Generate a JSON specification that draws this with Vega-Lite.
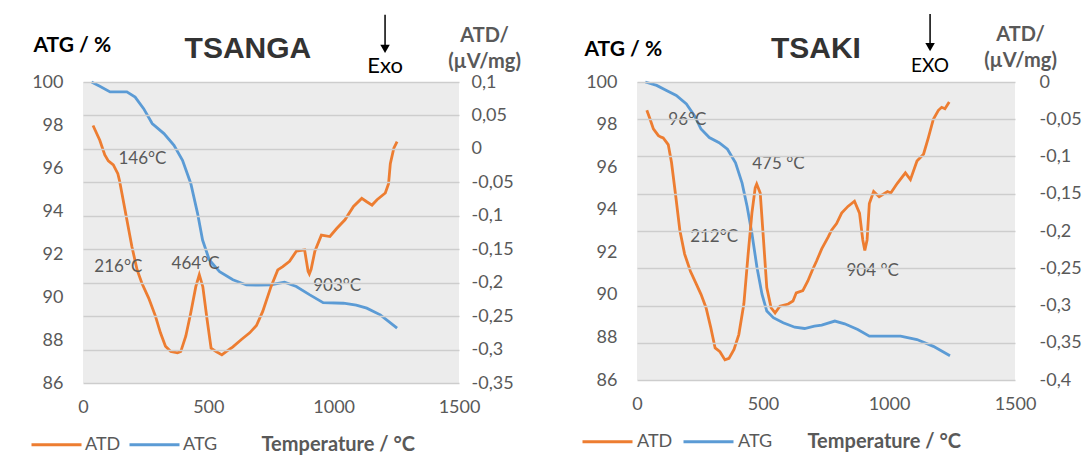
{
  "$schema": "https://vega.github.io/schema/vega-lite/v6.json",
  "background": "white",
  "padding": {"left": 30, "top": 13, "right": 5, "bottom": 5},
  "bounds": "flush",
  "spacing": 178,
  "datasets": {
    "tsanga_atg": [
      {"T": 34, "ATG": 100}, {"T": 67, "ATG": 99.8}, {"T": 108, "ATG": 99.54}, {"T": 175, "ATG": 99.54},
      {"T": 208, "ATG": 99.3}, {"T": 242, "ATG": 98.76}, {"T": 276, "ATG": 98.07}, {"T": 323, "ATG": 97.6},
      {"T": 363, "ATG": 97.06}, {"T": 397, "ATG": 96.36}, {"T": 430, "ATG": 95.28}, {"T": 457, "ATG": 93.89},
      {"T": 477, "ATG": 92.65}, {"T": 504, "ATG": 91.72}, {"T": 545, "ATG": 91.18}, {"T": 598, "ATG": 90.8},
      {"T": 652, "ATG": 90.56}, {"T": 700, "ATG": 90.55}, {"T": 750, "ATG": 90.57}, {"T": 804, "ATG": 90.69},
      {"T": 851, "ATG": 90.49}, {"T": 905, "ATG": 90.1}, {"T": 958, "ATG": 89.74}, {"T": 1039, "ATG": 89.71},
      {"T": 1090, "ATG": 89.62}, {"T": 1132, "ATG": 89.48}, {"T": 1186, "ATG": 89.17}, {"T": 1253, "ATG": 88.55}
    ],
    "tsanga_atd": [
      {"T": 40, "ATD": 0.035}, {"T": 67, "ATD": 0.013}, {"T": 87, "ATD": -0.009}, {"T": 101, "ATD": -0.018},
      {"T": 121, "ATD": -0.024}, {"T": 139, "ATD": -0.037}, {"T": 146, "ATD": -0.048}, {"T": 155, "ATD": -0.066},
      {"T": 175, "ATD": -0.106}, {"T": 195, "ATD": -0.146}, {"T": 216, "ATD": -0.181}, {"T": 235, "ATD": -0.201},
      {"T": 262, "ATD": -0.223}, {"T": 289, "ATD": -0.25}, {"T": 309, "ATD": -0.275}, {"T": 329, "ATD": -0.295},
      {"T": 350, "ATD": -0.303}, {"T": 377, "ATD": -0.305}, {"T": 390, "ATD": -0.303}, {"T": 410, "ATD": -0.28},
      {"T": 430, "ATD": -0.245}, {"T": 450, "ATD": -0.206}, {"T": 464, "ATD": -0.188}, {"T": 478, "ATD": -0.206},
      {"T": 495, "ATD": -0.255}, {"T": 511, "ATD": -0.298}, {"T": 531, "ATD": -0.303}, {"T": 554, "ATD": -0.308},
      {"T": 571, "ATD": -0.303}, {"T": 598, "ATD": -0.296}, {"T": 632, "ATD": -0.285}, {"T": 665, "ATD": -0.275},
      {"T": 692, "ATD": -0.264}, {"T": 717, "ATD": -0.243}, {"T": 750, "ATD": -0.206}, {"T": 777, "ATD": -0.181},
      {"T": 797, "ATD": -0.176}, {"T": 824, "ATD": -0.168}, {"T": 851, "ATD": -0.153}, {"T": 884, "ATD": -0.151},
      {"T": 898, "ATD": -0.183}, {"T": 903, "ATD": -0.187}, {"T": 910, "ATD": -0.18}, {"T": 925, "ATD": -0.153},
      {"T": 951, "ATD": -0.129}, {"T": 985, "ATD": -0.131}, {"T": 1012, "ATD": -0.119}, {"T": 1045, "ATD": -0.106},
      {"T": 1079, "ATD": -0.086}, {"T": 1112, "ATD": -0.074}, {"T": 1132, "ATD": -0.079}, {"T": 1153, "ATD": -0.084},
      {"T": 1173, "ATD": -0.076}, {"T": 1206, "ATD": -0.066}, {"T": 1219, "ATD": -0.052}, {"T": 1226, "ATD": -0.022},
      {"T": 1240, "ATD": 0.001}, {"T": 1253, "ATD": 0.011}
    ],
    "tsanga_labels": [
      {"label": "146°C", "T": 237, "y": 96.44},
      {"label": "216°C", "T": 141, "y": 91.41},
      {"label": "464°C", "T": 449, "y": 91.54},
      {"label": "903°C", "T": 1014, "y": 90.49}
    ],
    "tsaki_atg": [
      {"T": 33, "ATG": 100}, {"T": 78, "ATG": 99.84}, {"T": 117, "ATG": 99.6}, {"T": 156, "ATG": 99.37},
      {"T": 196, "ATG": 98.97}, {"T": 228, "ATG": 98.42}, {"T": 254, "ATG": 97.79}, {"T": 287, "ATG": 97.39},
      {"T": 326, "ATG": 97.15}, {"T": 359, "ATG": 96.84}, {"T": 391, "ATG": 96.2}, {"T": 417, "ATG": 95.25},
      {"T": 437, "ATG": 94.15}, {"T": 456, "ATG": 92.88}, {"T": 476, "ATG": 91.3}, {"T": 496, "ATG": 90.03},
      {"T": 515, "ATG": 89.24}, {"T": 541, "ATG": 88.93}, {"T": 580, "ATG": 88.69}, {"T": 626, "ATG": 88.48},
      {"T": 665, "ATG": 88.42}, {"T": 704, "ATG": 88.53}, {"T": 733, "ATG": 88.58}, {"T": 785, "ATG": 88.77},
      {"T": 824, "ATG": 88.64}, {"T": 876, "ATG": 88.37}, {"T": 922, "ATG": 88.06}, {"T": 981, "ATG": 88.06},
      {"T": 1046, "ATG": 88.06}, {"T": 1111, "ATG": 87.9}, {"T": 1176, "ATG": 87.58}, {"T": 1242, "ATG": 87.14}
    ],
    "tsaki_atd": [
      {"T": 39, "ATD": -0.038}, {"T": 52, "ATD": -0.05}, {"T": 65, "ATD": -0.063}, {"T": 85, "ATD": -0.072},
      {"T": 96, "ATD": -0.074}, {"T": 104, "ATD": -0.075}, {"T": 124, "ATD": -0.084}, {"T": 137, "ATD": -0.108},
      {"T": 154, "ATD": -0.154}, {"T": 170, "ATD": -0.199}, {"T": 189, "ATD": -0.231}, {"T": 212, "ATD": -0.254},
      {"T": 235, "ATD": -0.271}, {"T": 254, "ATD": -0.285}, {"T": 274, "ATD": -0.303}, {"T": 293, "ATD": -0.33},
      {"T": 310, "ATD": -0.357}, {"T": 329, "ATD": -0.362}, {"T": 349, "ATD": -0.373}, {"T": 365, "ATD": -0.371},
      {"T": 385, "ATD": -0.359}, {"T": 404, "ATD": -0.339}, {"T": 424, "ATD": -0.298}, {"T": 441, "ATD": -0.231},
      {"T": 456, "ATD": -0.176}, {"T": 469, "ATD": -0.142}, {"T": 475, "ATD": -0.137}, {"T": 489, "ATD": -0.149},
      {"T": 502, "ATD": -0.212}, {"T": 515, "ATD": -0.276}, {"T": 532, "ATD": -0.303}, {"T": 548, "ATD": -0.31},
      {"T": 567, "ATD": -0.301}, {"T": 600, "ATD": -0.298}, {"T": 619, "ATD": -0.294}, {"T": 632, "ATD": -0.283},
      {"T": 658, "ATD": -0.28}, {"T": 678, "ATD": -0.267}, {"T": 694, "ATD": -0.254}, {"T": 713, "ATD": -0.24},
      {"T": 733, "ATD": -0.224}, {"T": 759, "ATD": -0.208}, {"T": 772, "ATD": -0.199}, {"T": 792, "ATD": -0.19},
      {"T": 812, "ATD": -0.176}, {"T": 837, "ATD": -0.167}, {"T": 863, "ATD": -0.16}, {"T": 883, "ATD": -0.176},
      {"T": 896, "ATD": -0.212}, {"T": 904, "ATD": -0.226}, {"T": 913, "ATD": -0.212}, {"T": 922, "ATD": -0.163},
      {"T": 939, "ATD": -0.147}, {"T": 961, "ATD": -0.154}, {"T": 994, "ATD": -0.147}, {"T": 1007, "ATD": -0.149},
      {"T": 1033, "ATD": -0.136}, {"T": 1065, "ATD": -0.122}, {"T": 1085, "ATD": -0.131}, {"T": 1111, "ATD": -0.106},
      {"T": 1137, "ATD": -0.097}, {"T": 1156, "ATD": -0.075}, {"T": 1176, "ATD": -0.05}, {"T": 1196, "ATD": -0.038},
      {"T": 1209, "ATD": -0.034}, {"T": 1222, "ATD": -0.036}, {"T": 1239, "ATD": -0.027}
    ],
    "tsaki_labels": [
      {"label": "96°C", "T": 200, "y": 98.2},
      {"label": "475 °C", "T": 561, "y": 96.17},
      {"label": "212°C", "T": 306, "y": 92.72},
      {"label": "904 °C", "T": 935, "y": 91.11}
    ]
  },
  "hconcat": [
    {
      "width": 376,
      "height": 301,
      "layer": [
        {
          "data": {"name": "tsanga_atg"},
          "mark": {"type": "line", "strokeWidth": 2.8},
          "encoding": {
            "x": {"field": "T", "type": "quantitative", "scale": {"domain": [0, 1500], "nice": false},
                  "axis": {"values": [0, 500, 1000, 1500], "format": "d", "labelFlush": false, "labelPadding": 15,
                           "title": "Temperature / °C", "titleX": 178, "titleY": 61, "titleAlign": "left", "titleBaseline": "middle"}},
            "y": {"field": "ATG", "type": "quantitative", "scale": {"domain": [86, 100], "nice": false, "zero": false},
                  "axis": {"orient": "left", "values": [86, 88, 90, 92, 94, 96, 98, 100], "labelPadding": 20,
                           "title": "ATG / %", "titleAngle": 0, "titleX": -50, "titleY": -37, "titleAlign": "left", "titleBaseline": "middle",
                           "titleColor": "#000000", "titleFontSize": 21}},
            "color": {"datum": "ATG", "type": "nominal",
                      "scale": {"domain": ["ATD", "ATG"], "range": ["#ED7D31", "#5B9BD5"]},
                      "legend": {"orient": "none", "legendX": -53, "legendY": 336, "direction": "horizontal", "title": null,
                                 "symbolType": "stroke", "symbolSize": 2500, "symbolStrokeWidth": 3, "columnPadding": 2, "labelOffset": 2}}
          }
        },
        {
          "data": {"name": "tsanga_atd"},
          "mark": {"type": "line", "strokeWidth": 2.8},
          "encoding": {
            "x": {"field": "T", "type": "quantitative"},
            "y": {"field": "ATD", "type": "quantitative", "scale": {"domain": [-0.35, 0.1], "nice": false, "zero": false},
                  "axis": {"orient": "right", "grid": true, "zindex": 1, "gridColor": "#cdcdcd", "gridOpacity": 1, "gridWidth": 1.5,
                           "values": [-0.35, -0.3, -0.25, -0.2, -0.15, -0.1, -0.05, 0, 0.05, 0.1],
                           "labelExpr": "replace(replace(format(datum.value, '.2~f'), '.', ','), '\u2212', '-')",
                           "labelAlign": "left", "labelPadding": 12,
                           "title": ["ATD/", "(µV/mg)"], "titleAngle": 0, "titleX": 25, "titleY": -41, "titleAlign": "center",
                           "titleBaseline": "alphabetic", "titleLineHeight": 26}},
            "color": {"datum": "ATD", "type": "nominal"}
          }
        },
        {
          "data": {"name": "tsanga_labels"},
          "mark": {"type": "text", "font": "Lato", "fontSize": 17, "color": "#595959"},
          "encoding": {
            "x": {"field": "T", "type": "quantitative"},
            "y": {"field": "y", "type": "quantitative", "scale": {"domain": [86, 100], "nice": false, "zero": false}, "axis": null},
            "text": {"field": "label"}
          }
        },
        {
          "data": {"values": [{}]},
          "mark": {"type": "text", "text": "TSANGA", "font": "Liberation Sans", "fontSize": 30, "fontWeight": "bold", "color": "#333333"},
          "encoding": {
            "x": {"datum": 658, "type": "quantitative"},
            "y": {"datum": 101.55, "type": "quantitative", "scale": {"domain": [86, 100], "nice": false, "zero": false}, "axis": null}
          }
        },
        {
          "data": {"values": [{}]},
          "mark": {"type": "rule", "color": "#000000", "strokeWidth": 1.5},
          "encoding": {
            "x": {"datum": 1205, "type": "quantitative"},
            "y": {"datum": 103.13, "type": "quantitative", "scale": {"domain": [86, 100], "nice": false, "zero": false}, "axis": null},
            "y2": {"datum": 101.7}
          }
        },
        {
          "data": {"values": [{}]},
          "mark": {"type": "point", "shape": "triangle-down", "filled": true, "color": "#000000", "opacity": 1, "size": 90},
          "encoding": {
            "x": {"datum": 1205, "type": "quantitative"},
            "y": {"datum": 101.54, "type": "quantitative", "scale": {"domain": [86, 100], "nice": false, "zero": false}, "axis": null}
          }
        },
        {
          "data": {"values": [{}]},
          "mark": {"type": "text", "text": "Exo", "font": "Lato", "fontSize": 22, "color": "#000000"},
          "encoding": {
            "x": {"datum": 1205, "type": "quantitative"},
            "y": {"datum": 100.75, "type": "quantitative", "scale": {"domain": [86, 100], "nice": false, "zero": false}, "axis": null}
          }
        }
      ],
      "resolve": {"scale": {"y": "independent"}}
    },
    {
      "width": 378,
      "height": 298,
      "layer": [
        {
          "data": {"name": "tsaki_atg"},
          "mark": {"type": "line", "strokeWidth": 2.8},
          "encoding": {
            "x": {"field": "T", "type": "quantitative", "scale": {"domain": [0, 1500], "nice": false},
                  "axis": {"values": [0, 500, 1000, 1500], "format": "d", "labelFlush": false, "labelPadding": 15,
                           "title": "Temperature / °C", "titleX": 170, "titleY": 61, "titleAlign": "left", "titleBaseline": "middle"}},
            "y": {"field": "ATG", "type": "quantitative", "scale": {"domain": [86, 100], "nice": false, "zero": false},
                  "axis": {"orient": "left", "values": [86, 88, 90, 92, 94, 96, 98, 100], "labelPadding": 20,
                           "title": "ATG / %", "titleAngle": 0, "titleX": -53, "titleY": -33, "titleAlign": "left", "titleBaseline": "middle",
                           "titleColor": "#000000", "titleFontSize": 21}},
            "color": {"datum": "ATG", "type": "nominal",
                      "scale": {"domain": ["ATD", "ATG"], "range": ["#ED7D31", "#5B9BD5"]},
                      "legend": {"orient": "none", "legendX": -56, "legendY": 333, "direction": "horizontal", "title": null,
                                 "symbolType": "stroke", "symbolSize": 2500, "symbolStrokeWidth": 3, "columnPadding": 4, "labelOffset": 3}}
          }
        },
        {
          "data": {"name": "tsaki_atd"},
          "mark": {"type": "line", "strokeWidth": 2.8},
          "encoding": {
            "x": {"field": "T", "type": "quantitative"},
            "y": {"field": "ATD", "type": "quantitative", "scale": {"domain": [-0.4, 0], "nice": false, "zero": false},
                  "axis": {"orient": "right", "grid": true, "zindex": 1, "gridColor": "#cdcdcd", "gridOpacity": 1, "gridWidth": 1.5,
                           "values": [-0.4, -0.35, -0.3, -0.25, -0.2, -0.15, -0.1, -0.05, 0],
                           "labelExpr": "replace(replace(format(datum.value, '.2~f'), '.', ','), '\u2212', '-')",
                           "labelAlign": "left", "labelPadding": 24,
                           "title": ["ATD/", "(µV/mg)"], "titleAngle": 0, "titleX": 5, "titleY": -42, "titleAlign": "center",
                           "titleBaseline": "alphabetic", "titleLineHeight": 26}},
            "color": {"datum": "ATD", "type": "nominal"}
          }
        },
        {
          "data": {"name": "tsaki_labels"},
          "mark": {"type": "text", "font": "Lato", "fontSize": 17, "color": "#595959"},
          "encoding": {
            "x": {"field": "T", "type": "quantitative"},
            "y": {"field": "y", "type": "quantitative", "scale": {"domain": [86, 100], "nice": false, "zero": false}, "axis": null},
            "text": {"field": "label"}
          }
        },
        {
          "data": {"values": [{}]},
          "mark": {"type": "text", "text": "TSAKI", "font": "Liberation Sans", "fontSize": 30, "fontWeight": "bold", "color": "#333333"},
          "encoding": {
            "x": {"datum": 710, "type": "quantitative"},
            "y": {"datum": 101.55, "type": "quantitative", "scale": {"domain": [86, 100], "nice": false, "zero": false}, "axis": null}
          }
        },
        {
          "data": {"values": [{}]},
          "mark": {"type": "rule", "color": "#000000", "strokeWidth": 1.5},
          "encoding": {
            "x": {"datum": 1163, "type": "quantitative"},
            "y": {"datum": 103.19, "type": "quantitative", "scale": {"domain": [86, 100], "nice": false, "zero": false}, "axis": null},
            "y2": {"datum": 101.8}
          }
        },
        {
          "data": {"values": [{}]},
          "mark": {"type": "point", "shape": "triangle-down", "filled": true, "color": "#000000", "opacity": 1, "size": 90},
          "encoding": {
            "x": {"datum": 1163, "type": "quantitative"},
            "y": {"datum": 101.64, "type": "quantitative", "scale": {"domain": [86, 100], "nice": false, "zero": false}, "axis": null}
          }
        },
        {
          "data": {"values": [{}]},
          "mark": {"type": "text", "text": "EXO", "font": "Lato", "fontSize": 19, "color": "#000000"},
          "encoding": {
            "x": {"datum": 1163, "type": "quantitative"},
            "y": {"datum": 100.75, "type": "quantitative", "scale": {"domain": [86, 100], "nice": false, "zero": false}, "axis": null}
          }
        }
      ],
      "resolve": {"scale": {"y": "independent"}}
    }
  ],
  "resolve": {"scale": {"color": "independent"}, "legend": {"color": "independent"}},
  "config": {
    "font": "Lato",
    "view": {"stroke": null, "fill": "#ececec"},
    "axis": {
      "labelFont": "Lato", "labelFontSize": 18, "labelColor": "#595959",
      "ticks": false, "domain": false, "grid": false, "labelOverlap": false,
      "titleFont": "Lato", "titleFontSize": 20, "titleFontWeight": "bold", "titleColor": "#595959"
    },
    "legend": {"labelFont": "Lato", "labelFontSize": 18, "labelColor": "#595959"}
  }
}
